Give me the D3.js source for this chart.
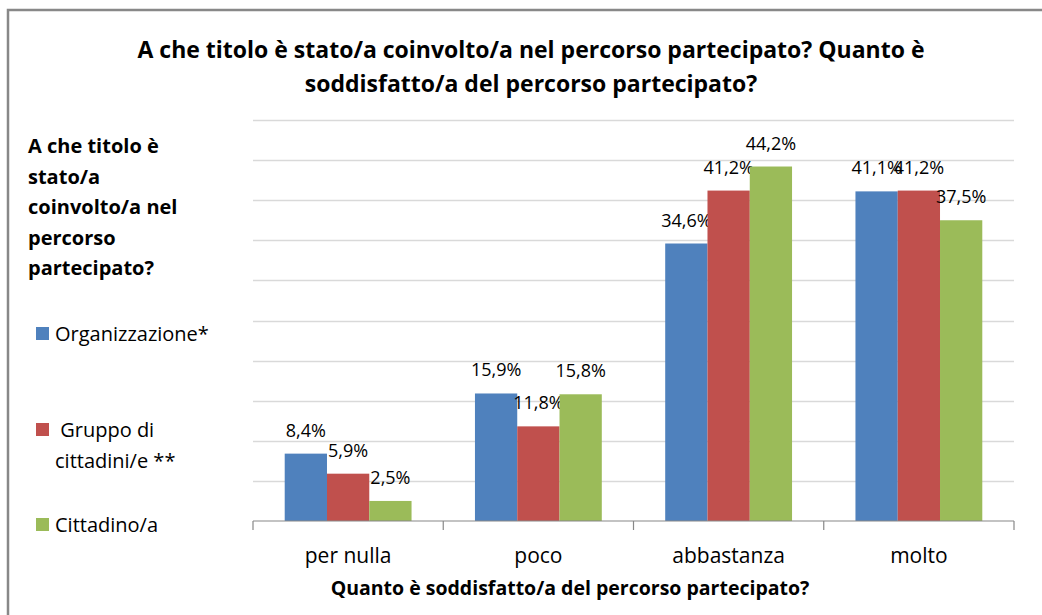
<!DOCTYPE html>
<html>
<head>
<meta charset="utf-8">
<script src="https://cdn.jsdelivr.net/npm/d3@7"></script>
<style>
  body { margin: 0; background: #fff; }
  svg { display: block; font-family: "Open Sans", Lato, sans-serif; }
</style>
</head>
<body>
<svg id="chart" width="1042" height="615"></svg>
<script>
// data
const categories = ["per nulla", "poco", "abbastanza", "molto"];
const seriesNames = ["Organizzazione*", "Gruppo di cittadini/e **", "Cittadino/a"];
const organizzazione = [8.4, 15.9, 34.6, 41.1];
const gruppo = [5.9, 11.8, 41.2, 41.2];
const cittadino = [2.5, 15.8, 44.2, 37.5];
const yTicks = [0, 5, 10, 15, 20, 25, 30, 35, 40, 45, 50];
const titleLines = [
  "A che titolo è stato/a coinvolto/a nel percorso partecipato? Quanto è",
  "soddisfatto/a del percorso partecipato?"
];
const legendTitle = ["A che titolo è", "stato/a", "coinvolto/a nel", "percorso", "partecipato?"];
const legendLabels = [["Organizzazione*"], ["\u00a0Gruppo di", "cittadini/e **"], ["Cittadino/a"]];
const xTitle = "Quanto è soddisfatto/a del percorso partecipato?";

const colors = ["#4F81BD", "#C0504D", "#9BBB59"];
const values = [organizzazione, gruppo, cittadino];

const svg = d3.select("#chart");
const plot = { left: 253, right: 1014, top: 120, bottom: 521 };

// outer border (only top and left visible in the crop)
svg.append("path")
  .attr("d", "M8,1042 V10 H1042")
  .attr("fill", "none")
  .attr("stroke", "#888")
  .attr("stroke-width", 2.5);

const it = d3.formatLocale({ decimal: ",", thousands: ".", grouping: [3], currency: ["", "€"] });
const fmt = v => it.format(".1f")(v) + "%";

const x0 = d3.scaleBand()
  .domain(categories)
  .range([plot.left, plot.right])
  .paddingInner(1 / 3)
  .paddingOuter(1 / 6);

const x1 = d3.scaleBand()
  .domain(d3.range(seriesNames.length))
  .range([0, x0.bandwidth()]);

const y = d3.scaleLinear()
  .domain([0, 50])
  .range([plot.bottom, plot.top]);

// gridlines
svg.append("g")
  .selectAll("line")
  .data(yTicks.filter(d => d > 0))
  .join("line")
  .attr("x1", plot.left)
  .attr("x2", plot.right)
  .attr("y1", d => Math.round(y(d)) + 0.5)
  .attr("y2", d => Math.round(y(d)) + 0.5)
  .attr("stroke", "#d9d9d9")
  .attr("stroke-width", 1.5);

// bars
const groups = svg.append("g")
  .selectAll("g")
  .data(categories)
  .join("g")
  .attr("transform", d => `translate(${x0(d)},0)`);

const cells = groups.selectAll("g")
  .data((c, ci) => values.map((s, si) => ({ si, v: s[ci] })))
  .join("g");

cells.append("rect")
  .attr("x", d => x1(d.si))
  .attr("width", x1.bandwidth())
  .attr("y", d => y(d.v))
  .attr("height", d => y(0) - y(d.v))
  .attr("fill", d => colors[d.si]);

cells.append("text")
  .attr("x", d => x1(d.si) + x1.bandwidth() / 2)
  .attr("y", d => y(d.v) - 17)
  .attr("text-anchor", "middle")
  .attr("font-size", 18)
  .attr("fill", "#000")
  .text(d => fmt(d.v));

// x axis
const xAxis = svg.append("g")
  .attr("transform", `translate(0,${plot.bottom})`);
xAxis.append("line")
  .attr("x1", plot.left).attr("x2", plot.right)
  .attr("stroke", "#888").attr("stroke-width", 1.2);
const edge = i => i < categories.length ? x0(categories[i]) - x0.step() * x0.paddingInner() / 2 : plot.right;
xAxis.selectAll(".tk")
  .data(d3.range(categories.length + 1))
  .join("line")
  .attr("class", "tk")
  .attr("x1", edge)
  .attr("x2", edge)
  .attr("y1", 0).attr("y2", 9)
  .attr("stroke", "#888").attr("stroke-width", 1.2);
xAxis.selectAll(".lbl")
  .data(categories)
  .join("text")
  .attr("class", "lbl")
  .attr("x", d => x0(d) + x0.bandwidth() / 2)
  .attr("y", 42)
  .attr("text-anchor", "middle")
  .attr("font-size", 21)
  .attr("fill", "#000")
  .text(d => d);

svg.append("text")
  .attr("x", 570)
  .attr("y", 595)
  .attr("text-anchor", "middle")
  .attr("font-size", 19.5)
  .attr("font-weight", "bold")
  .text(xTitle);

// title
svg.append("g")
  .selectAll("text")
  .data(titleLines)
  .join("text")
  .attr("x", 531)
  .attr("y", (d, i) => 58 + i * 34)
  .attr("text-anchor", "middle")
  .attr("font-size", 23)
  .attr("font-weight", "bold")
  .text(d => d);

// legend
svg.append("g")
  .selectAll("text")
  .data(legendTitle)
  .join("text")
  .attr("x", 28)
  .attr("y", (d, i) => 153 + i * 30.5)
  .attr("font-size", 20)
  .attr("font-weight", "bold")
  .text(d => d);

const legendY = [340, 436, 531];
const leg = svg.append("g")
  .selectAll("g")
  .data(seriesNames)
  .join("g");
leg.append("rect")
  .attr("x", 36)
  .attr("y", (d, i) => legendY[i] - 13)
  .attr("width", 13)
  .attr("height", 13)
  .attr("fill", (d, i) => colors[i]);
leg.selectAll("text")
  .data((d, i) => legendLabels[i].map((t, j) => ({ t, i, j })))
  .join("text")
  .attr("x", 55)
  .attr("y", d => legendY[d.i] + 1 + d.j * 31)
  .attr("font-size", 20)
  .text(d => d.t);
</script>
</body>
</html>
